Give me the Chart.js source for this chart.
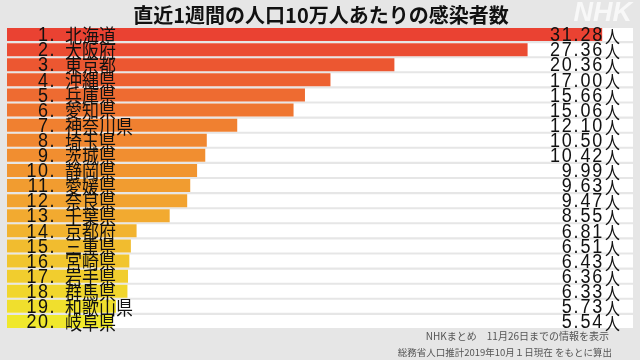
<!DOCTYPE html>
<html>
<head>
<meta charset="utf-8">
<script src="https://cdn.jsdelivr.net/npm/chart.js@4"></script>
<style>
  html, body { margin: 0; padding: 0; background: #e6e6e6; }
  #wrap { position: relative; width: 640px; height: 360px; }
</style>
</head>
<body>
<div id="wrap"><canvas id="chart"></canvas></div>
<script>
// data
const ranks = ['1.', '2.', '3.', '4.', '5.', '6.', '7.', '8.', '9.', '10.',
  '11.', '12.', '13.', '14.', '15.', '16.', '17.', '18.', '19.', '20.'];
const prefectures = ['北海道', '大阪府', '東京都', '沖縄県', '兵庫県', '愛知県', '神奈川県', '埼玉県', '茨城県', '静岡県',
  '愛媛県', '奈良県', '千葉県', '京都府', '三重県', '宮崎県', '岩手県', '群馬県', '和歌山県', '岐阜県'];
const perCapita = [31.28, 27.36, 20.36, 17.00, 15.66, 15.06, 12.10, 10.50, 10.42, 9.99,
  9.63, 9.47, 8.55, 6.81, 6.51, 6.43, 6.36, 6.33, 5.73, 5.54];
const axisMax = 32.9;
const unit = '人';
const title = '直近1週間の人口10万人あたりの感染者数';
const notes = ['NHKまとめ　11月26日までの情報を表示', '総務省人口推計2019年10月１日現在 をもとに算出'];

// red -> orange -> yellow, row by row
const stops = [[0, [234, 66, 50]], [6, [240, 128, 48]], [12, [242, 170, 48]], [19, [240, 232, 44]]];
function rowColor(i) {
  for (let k = 0; k < stops.length - 1; k++) {
    const [a, ca] = stops[k], [b, cb] = stops[k + 1];
    if (i <= b) {
      const t = (i - a) / (b - a);
      const c = ca.map((v, j) => Math.round(v + (cb[j] - v) * t));
      return `rgb(${c[0]},${c[1]},${c[2]})`;
    }
  }
  return 'rgb(240,232,44)';
}

// tall, narrow glyphs like the broadcast graphic
function tallText(ctx, text, x, y, align, font, spacing) {
  ctx.save();
  ctx.translate(x, y);
  ctx.scale(1, 1.15);
  ctx.font = font;
  ctx.letterSpacing = spacing || '0px';
  ctx.textAlign = align;
  ctx.fillText(text, 0, 0);
  ctx.restore();
}

const textPlugin = {
  id: 'rowText',
  afterDatasetsDraw(chart) {
    const ctx = chart.ctx;
    const y = chart.scales.y;
    const x = chart.scales.x;
    const right = x.getPixelForValue(axisMax);
    ctx.save();
    ctx.fillStyle = '#111';
    ctx.textBaseline = 'middle';
    perCapita.forEach((v, i) => {
      const py = y.getPixelForValue(i) + 1;
      tallText(ctx, ranks[i], 56, py, 'right', '18px "Liberation Sans", Arial, sans-serif', '1.5px');
      tallText(ctx, prefectures[i], 65, py, 'left', '17px "Noto Sans CJK JP", sans-serif');
      tallText(ctx, v.toFixed(2), right - 29, py, 'right', '18px "Liberation Sans", Arial, sans-serif', '1.8px');
      tallText(ctx, unit, right - 28, py + 1, 'left', '15px "Noto Sans CJK JP", sans-serif');
    });

    // title
    ctx.font = 'bold 20px "Noto Sans CJK JP", sans-serif';
    ctx.textAlign = 'center';
    ctx.fillText(title, 321, 15);

    // logo
    ctx.font = 'italic bold 27px "Liberation Sans", Arial, sans-serif';
    ctx.fillStyle = 'rgba(255,255,255,0.7)';
    ctx.textAlign = 'right';
    ctx.fillText('NHK', 632, 14);

    // footnotes
    ctx.fillStyle = '#555';
    ctx.font = '10px "Noto Sans CJK JP", sans-serif';
    ctx.fillText(notes[0], 609, 336);
    ctx.font = '9.5px "Noto Sans CJK JP", sans-serif';
    ctx.fillText(notes[1], 612, 352);
    ctx.restore();
  }
};

new Chart(document.getElementById('chart'), {
  type: 'bar',
  data: {
    labels: prefectures,
    datasets: [
      {
        label: 'value',
        data: perCapita,
        backgroundColor: perCapita.map((v, i) => rowColor(i)),
        grouped: false,
        order: 1,
        barPercentage: 0.86,
        categoryPercentage: 1
      },
      {
        label: 'track',
        data: perCapita.map(() => axisMax),
        backgroundColor: '#ffffff',
        grouped: false,
        order: 2,
        barPercentage: 0.86,
        categoryPercentage: 1
      }
    ]
  },
  options: {
    indexAxis: 'y',
    responsive: true,
    maintainAspectRatio: false,
    animation: false,
    layout: { padding: { left: 7, right: 7, top: 27, bottom: 31 } },
    plugins: { legend: { display: false }, tooltip: { enabled: false } },
    scales: {
      x: { display: false, min: 0, max: axisMax },
      y: { display: false }
    }
  },
  plugins: [textPlugin]
});
</script>
</body>
</html>
